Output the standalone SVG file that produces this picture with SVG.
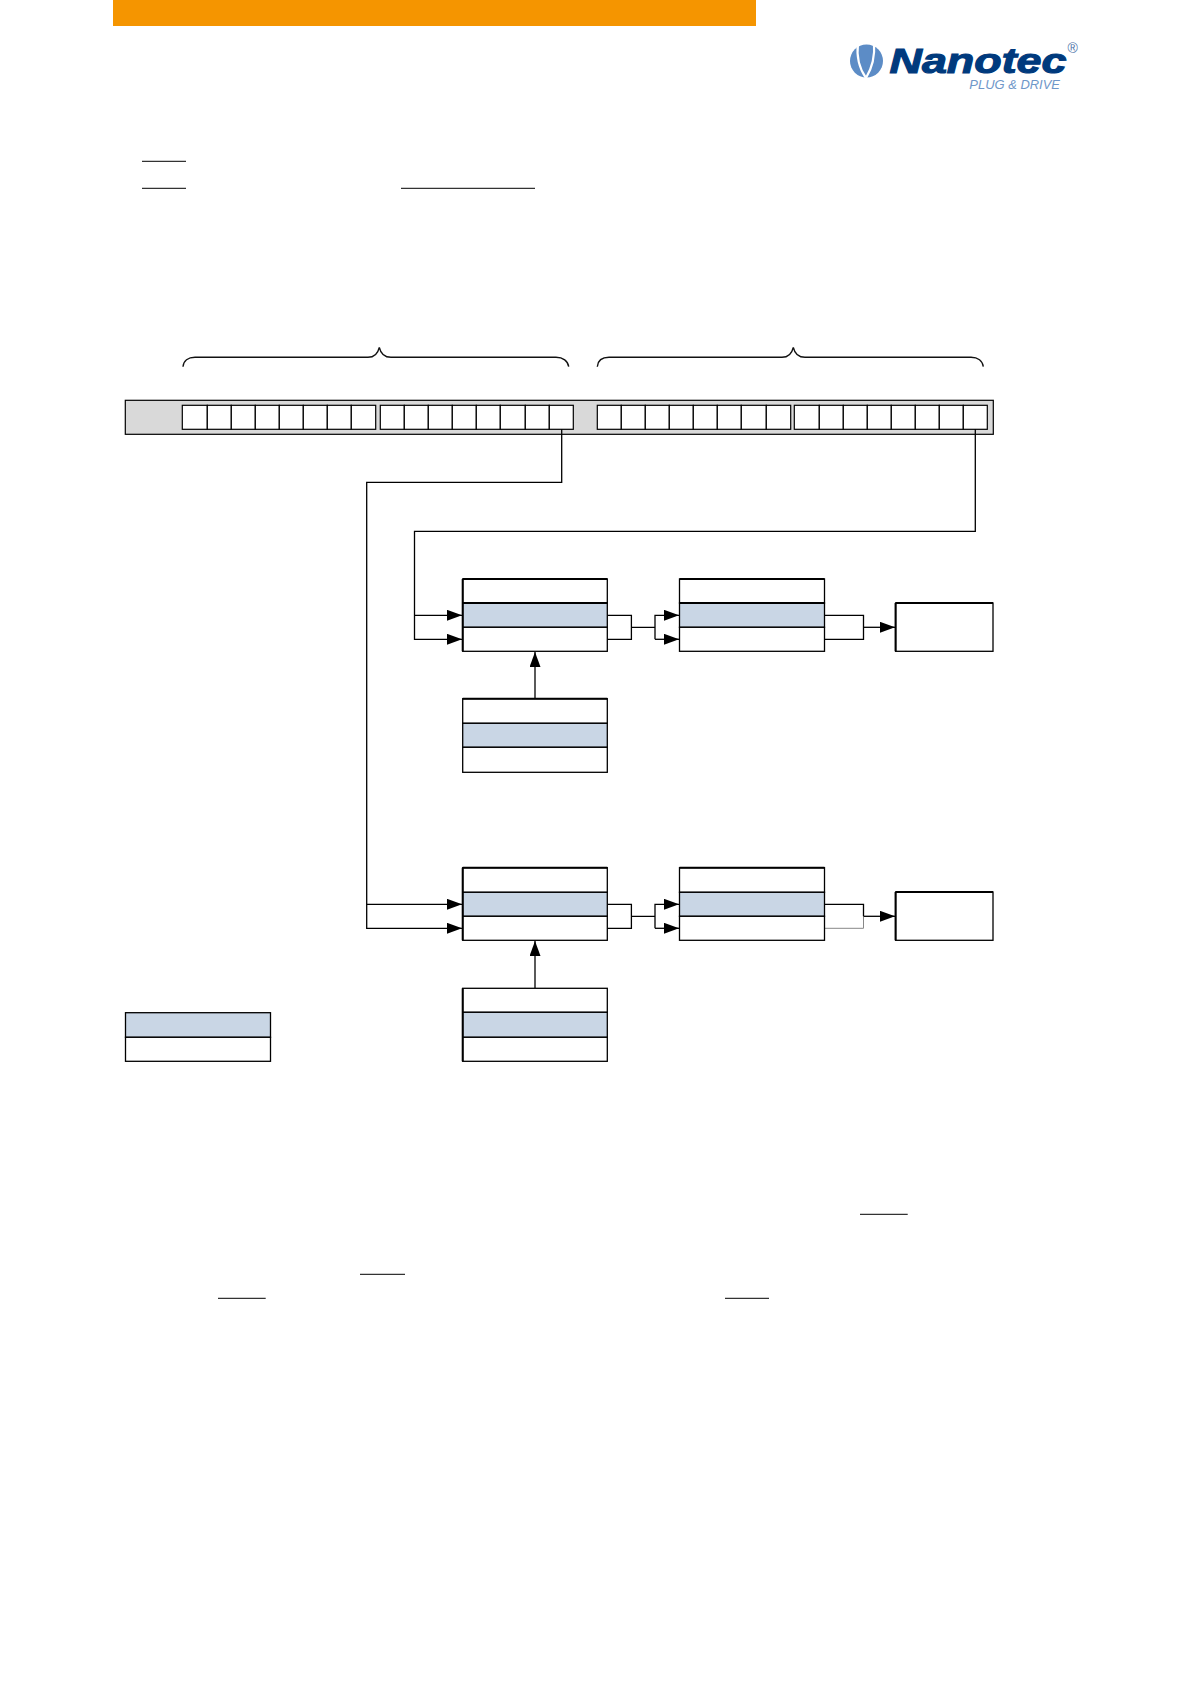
<svg xmlns="http://www.w3.org/2000/svg" width="1191" height="1684" viewBox="0 0 1191 1684">
<style>
.box{fill:#fff;stroke:#000;stroke-width:1.3}
.blue{fill:#c9d6e5;stroke:#000;stroke-width:1.3}
.thick{fill:none;stroke:#000;stroke-width:2}
.cell{fill:#fff;stroke:#000;stroke-width:1.2}
.con{fill:none;stroke:#000;stroke-width:1.3}
.ul{stroke:#333;stroke-width:1.3;fill:none}
.brace{fill:none;stroke:#111;stroke-width:1.4}
</style>
<defs>
<marker id="arr" markerUnits="userSpaceOnUse" markerWidth="15" markerHeight="11" refX="15" refY="5.500" orient="auto"><path d="M0 0L15 5.500L0 11Z" fill="#000"/></marker>
</defs>
<rect x="113" y="0" width="643" height="26" fill="#f59500"/>
<g id="logo">
<circle cx="866.500" cy="61" r="16.500" fill="#5c8cc6"/>
<path d="M858 43C856.500 55 859 68 866 78M874 43C875 55 872 68 866 78" fill="none" stroke="#fff" stroke-width="2.200"/>
<path d="M868 42L874 47L871 44Z" fill="#fff"/>
<text x="889.500" y="72.500" font-family="'Liberation Sans',Arial,sans-serif" font-weight="700" font-style="italic" font-size="35" fill="#003a7d" stroke="#003a7d" stroke-width="1.100" textLength="177" lengthAdjust="spacingAndGlyphs">Nanotec</text>
<text x="969.300" y="89" font-family="'Liberation Sans',Arial,sans-serif" font-style="italic" font-size="12" fill="#6f97c9" textLength="90.700" lengthAdjust="spacingAndGlyphs">PLUG &amp; DRIVE</text>
<text x="1067.500" y="53" font-family="'Liberation Sans',Arial,sans-serif" font-size="14" fill="#4f75aa">®</text>
</g>
<g id="underlines">
<path class="ul" d="M142 161.300H186M142 188.300H186M401 188.300H535M860 1214.300H907.700M360 1274.300H405M218 1298.300H265.700M725 1298.300H769"/>
</g>
<g id="braces">
<path class="brace" d="M183 366.700C183.500 361 188 357.300 195 357.300H368C374 357.300 378 353 379.300 347.300C380.600 353 384.600 357.300 391 357.300H556C563 357.300 568 361 568.700 366.700"/>
<path class="brace" d="M597.300 366.700C597.800 361 602 357.300 609 357.300H782C788 357.300 792 353 793.300 347.300C794.600 353 798.600 357.300 805 357.300H971C978 357.300 982.500 361 983.300 366.700"/>
</g>
<g id="register">
<rect x="125.300" y="400.300" width="868" height="34" fill="#d9d9d9" stroke="#000" stroke-width="1.2"/>
<g id="cells-1">
<rect class="cell" x="182.300" y="405.300" width="25" height="24"/><rect class="cell" x="207.300" y="405.300" width="24" height="24"/><rect class="cell" x="231.300" y="405.300" width="24" height="24"/><rect class="cell" x="255.300" y="405.300" width="24" height="24"/><rect class="cell" x="279.300" y="405.300" width="24" height="24"/><rect class="cell" x="303.300" y="405.300" width="24" height="24"/><rect class="cell" x="327.300" y="405.300" width="24" height="24"/><rect class="cell" x="351.300" y="405.300" width="24.400" height="24"/>
</g>
<g id="cells-2">
<rect class="cell" x="380.300" y="405.300" width="24" height="24"/><rect class="cell" x="404.300" y="405.300" width="24" height="24"/><rect class="cell" x="428.300" y="405.300" width="24" height="24"/><rect class="cell" x="452.300" y="405.300" width="24" height="24"/><rect class="cell" x="476.300" y="405.300" width="24" height="24"/><rect class="cell" x="500.300" y="405.300" width="25" height="24"/><rect class="cell" x="525.300" y="405.300" width="24" height="24"/><rect class="cell" x="549.300" y="405.300" width="24" height="24"/>
</g>
<g id="cells-3">
<rect class="cell" x="597.300" y="405.300" width="24" height="24"/><rect class="cell" x="621.300" y="405.300" width="24" height="24"/><rect class="cell" x="645.300" y="405.300" width="24" height="24"/><rect class="cell" x="669.300" y="405.300" width="24" height="24"/><rect class="cell" x="693.300" y="405.300" width="24" height="24"/><rect class="cell" x="717.300" y="405.300" width="24" height="24"/><rect class="cell" x="741.300" y="405.300" width="25" height="24"/><rect class="cell" x="766.300" y="405.300" width="24.400" height="24"/>
</g>
<g id="cells-4">
<rect class="cell" x="794.300" y="405.300" width="25" height="24"/><rect class="cell" x="819.300" y="405.300" width="24" height="24"/><rect class="cell" x="843.300" y="405.300" width="24" height="24"/><rect class="cell" x="867.300" y="405.300" width="24" height="24"/><rect class="cell" x="891.300" y="405.300" width="24" height="24"/><rect class="cell" x="915.300" y="405.300" width="24" height="24"/><rect class="cell" x="939.300" y="405.300" width="24" height="24"/><rect class="cell" x="963.300" y="405.300" width="24" height="24"/>
</g>
</g>
<g id="connectors">
<path class="con" d="M561.700 429.300V482.300H366.700V928.300H462" marker-end="url(#arr)"/>
<path class="con" d="M366.700 904.300H462" marker-end="url(#arr)"/>
<path class="con" d="M975.300 429.300V531.300H414.500V639.300H462" marker-end="url(#arr)"/>
<path class="con" d="M414.500 615.300H462" marker-end="url(#arr)"/>
<path class="con" d="M607.300 615.300H631.400V639.300H607.300M631.400 627.300H655"/>
<path class="con" d="M655 639.300V615.300H679" marker-end="url(#arr)"/>
<path class="con" d="M655 639.300H679" marker-end="url(#arr)"/>
<path class="con" d="M824.500 615.300H863.500V639.300H824.500"/>
<path class="con" d="M863.500 627.300H895" marker-end="url(#arr)"/>
<path class="con" d="M535 698.700V652" marker-end="url(#arr)"/>
<path class="con" d="M607.300 904.300H631.400V928.300H607.300M631.400 916.300H655"/>
<path class="con" d="M655 928.300V904.300H679" marker-end="url(#arr)"/>
<path class="con" d="M655 928.300H679" marker-end="url(#arr)"/>
<path class="con" d="M824.500 904.300H863.500V916.300"/>
<path d="M824.500 928.300H863.500V916.300" fill="none" stroke="#888" stroke-width="1"/>
<path class="con" d="M863.500 916.300H895" marker-end="url(#arr)"/>
<path class="con" d="M535 988.300V941" marker-end="url(#arr)"/>
</g>
<g id="node-a">
<rect class="box" x="462.700" y="579" width="144.600" height="24"/><rect class="blue" x="462.700" y="603" width="144.600" height="24.300"/><rect class="box" x="462.700" y="627.300" width="144.600" height="24"/>
<path class="thick" d="M462.700 579H607.300M462.700 603H607.300M462.700 579V651.300"/>
</g>
<g id="node-b">
<rect class="box" x="679.500" y="579" width="145" height="24"/><rect class="blue" x="679.500" y="603" width="145" height="24.300"/><rect class="box" x="679.500" y="627.300" width="145" height="24"/>
<path class="thick" d="M679.500 579H824.500M679.500 603H824.500"/>
</g>
<g id="node-c">
<rect class="box" x="895.600" y="603" width="97.400" height="48.300"/>
<path class="thick" d="M895.600 603H993M895.600 603V651.300"/>
</g>
<g id="node-d">
<rect class="box" x="462.700" y="698.700" width="144.600" height="24.600"/><rect class="blue" x="462.700" y="723.300" width="144.600" height="24"/><rect class="box" x="462.700" y="747.300" width="144.600" height="25"/>
<path class="thick" d="M462.700 698.700H607.300"/>
</g>
<g id="node-e">
<rect class="box" x="462.700" y="867.700" width="144.600" height="24.600"/><rect class="blue" x="462.700" y="892.300" width="144.600" height="24"/><rect class="box" x="462.700" y="916.300" width="144.600" height="24"/>
<path class="thick" d="M462.700 867.700H607.300M462.700 867.700V940.300"/>
</g>
<g id="node-f">
<rect class="box" x="679.500" y="867.700" width="145" height="24.600"/><rect class="blue" x="679.500" y="892.300" width="145" height="24"/><rect class="box" x="679.500" y="916.300" width="145" height="24"/>
<path class="thick" d="M679.500 867.700H824.500"/>
</g>
<g id="node-g">
<rect class="box" x="895.600" y="892" width="97.400" height="48.300"/>
<path class="thick" d="M895.600 892H993M895.600 892V940.300"/>
</g>
<g id="node-h">
<rect class="box" x="462.700" y="988.300" width="144.600" height="24"/><rect class="blue" x="462.700" y="1012.300" width="144.600" height="25"/><rect class="box" x="462.700" y="1037.300" width="144.600" height="24"/>
<path class="thick" d="M462.700 988.300V1061.300"/>
</g>
<g id="legend">
<rect class="blue" x="125.500" y="1012.700" width="145" height="24.600"/><rect class="box" x="125.500" y="1037.300" width="145" height="24"/>
</g>
</svg>
